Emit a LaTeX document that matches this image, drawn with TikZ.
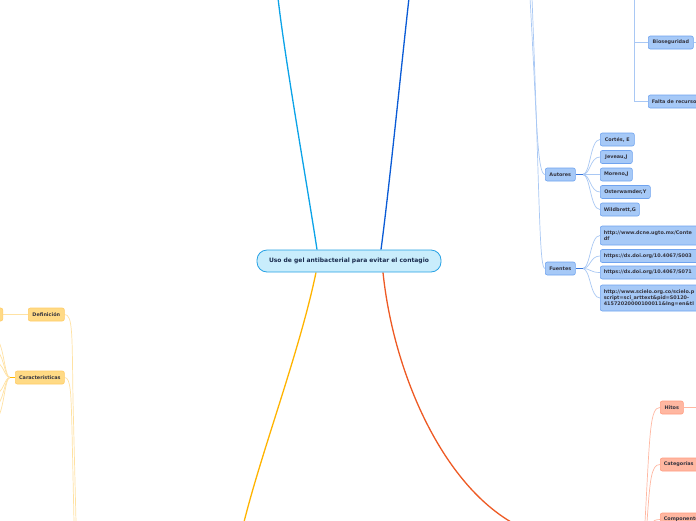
\documentclass[tikz,border=0pt]{standalone}
\usepackage{fontspec}
\setmainfont{DejaVu Sans}
\usetikzlibrary{calc}
\definecolor{cBrA}{HTML}{0BA3E8}
\definecolor{cBrB}{HTML}{0A5BD6}
\definecolor{cBrC}{HTML}{FFB400}
\definecolor{cBrD}{HTML}{EE5A24}
\definecolor{cCenFill}{HTML}{C9EDFC}
\definecolor{cCenBd}{HTML}{27A2E5}
\definecolor{cCenTxt}{HTML}{1A2C4E}
\definecolor{cBFill}{HTML}{A6C9F7}
\definecolor{cBBd}{HTML}{6FA3EF}
\definecolor{cBLine}{HTML}{A9C8F4}
\definecolor{cBStub}{HTML}{3A78DD}
\definecolor{cOFill}{HTML}{FFDA85}
\definecolor{cOBd}{HTML}{FFCC66}
\definecolor{cOLine}{HTML}{FFE2A3}
\definecolor{cOStub}{HTML}{FFB600}
\definecolor{cRFill}{HTML}{FFB7A1}
\definecolor{cRBd}{HTML}{FF9B7F}
\definecolor{cRLine}{HTML}{FFB8A2}
\definecolor{cTxt}{HTML}{34343F}
\pgfdeclarelayer{back}
\pgfdeclarelayer{bg}
\pgfsetlayers{back,bg,main}
\tikzset{
  central/.style={draw=cCenBd, fill=cCenFill, line width=0.8pt, rounded corners=10pt,
    minimum width=184pt, minimum height=22pt, inner sep=0pt, text=cCenTxt,
    font=\fontsize{6}{7}\selectfont\bfseries},
  topic/.style={rounded corners=2pt, line width=0.6pt, anchor=west, minimum height=13pt,
    inner xsep=3.5pt, inner ysep=1.5pt, text=cTxt, font=\fontsize{4.9}{6.3}\selectfont\bfseries},
  bnode/.style={topic, draw=cBBd, fill=cBFill},
  onode/.style={topic, draw=cOBd, fill=cOFill},
  rnode/.style={topic, draw=cRBd, fill=cRFill},
  brA/.style={draw=cBrA, line width=1.3pt},
  brB/.style={draw=cBrB, line width=1.3pt},
  brC/.style={draw=cBrC, line width=1.3pt},
  brD/.style={draw=cBrD, line width=1.3pt},
  bline/.style={draw=cBLine, line width=0.7pt},
  oline/.style={draw=cOLine, line width=0.7pt},
  rline/.style={draw=cRLine, line width=0.7pt},
  bstub/.style={draw=cBStub, line width=1.2pt},
  ostub/.style={draw=cOStub, line width=1.2pt},
}
\begin{document}
\begin{tikzpicture}[x=1pt,y=-1pt]
\begin{pgfonlayer}{back}
\fill[white] (0,0) rectangle (696,520);
\end{pgfonlayer}
\useasboundingbox (0,0) rectangle (696,520);

% central
\node[central] (c) at (349,261) {Uso de gel antibacterial para evitar el contagio};

% blue topics (right, top)
\node[bnode, minimum width=45pt] (bio) at (648,42.5) {Bioseguridad};
\node[bnode, text width=60pt, align=left] (falta) at (648,101.5) {Falta de recursos};
\node[bnode, minimum width=30pt] (aut) at (545,174.5) {Autores};
\node[bnode, minimum width=34pt] (a1) at (600,139.5) {Cortés, E};
\node[bnode, minimum width=32pt] (a2) at (600,157) {Jeveau,J};
\node[bnode, minimum width=32pt] (a3) at (600,174.5) {Moreno,J};
\node[bnode, minimum width=50pt] (a4) at (600,192) {Osterwamder,Y};
\node[bnode, minimum width=39pt] (a5) at (600,209.5) {Wildbrett,G};
\node[bnode, minimum width=30pt] (fue) at (545,268.5) {Fuentes};
\node[bnode, text width=110pt, align=left, minimum height=19pt] (f1) at (600,235.5) {http://www.dcne.ugto.mx/Conte\\df};
\node[bnode, text width=110pt, align=left] (f2) at (600,256) {https://dx.doi.org/10.4067/S003};
\node[bnode, text width=110pt, align=left] (f3) at (600,272.5) {https://dx.doi.org/10.4067/S071};
\node[bnode, text width=110pt, align=left, minimum height=26pt] (f4) at (600,298) {http://www.scielo.org.co/scielo.p\\script=sci\_arttext\&pid=S0120-\\41572020000100011\&lng=en\&tl};

% orange topics (left)
\node[onode, minimum width=44pt, anchor=east] (defl) at (3,314.5) {};
\node[onode, minimum width=36pt] (def) at (28,314.5) {Definición};
\node[onode, minimum width=49pt] (car) at (15,377.5) {Características};

% red topics (bottom right)
\node[rnode, minimum width=23pt] (hit) at (660,407.5) {Hitos};
\node[rnode, text width=50pt, align=left] (cat) at (660,464.5) {Categorías};
\node[rnode, text width=50pt, align=left] (com) at (660,519.5) {Componentes};

% off-picture end points
\coordinate (tA) at (278,-2);
\coordinate (tB) at (409,-2);
\coordinate (tC) at (244,522);
\coordinate (tD) at (511,522);
\coordinate (bv) at (634,-2);
\coordinate (ba1) at (530,-2);
\coordinate (ba2) at (532,-2);
\coordinate (ob1) at (76,522);
\coordinate (ob2) at (74,522);
\coordinate (rb1) at (645,522);
\coordinate (rb2) at (647,522);
\coordinate (rb3) at (648,530);
\coordinate (hitR) at (698,407.5);
\coordinate (bioR) at (698,42.5);

\begin{pgfonlayer}{bg}
% main branches
\draw[brA] ([xshift=-32pt]c.north) .. controls (308,190) and (285,60) .. (tA);
\draw[brB] ([xshift=32pt]c.north) .. controls (389,190) and (402,60) .. (tB);
\draw[brC] ([xshift=-33pt]c.south) .. controls (300,350) and (262,450) .. (tC);
\draw[brD] ([xshift=34pt]c.south) .. controls (393,370) and (440,480) .. (tD);

% blue
\draw[bline] (bv) |- (falta.west);
\draw[bline] (bv |- bio.west) -- (bio.west);
\draw[bline] (bio.east) -- (bioR);
\draw[bline] (ba1) .. controls (537,120) and (537,174.5) .. (aut.west);
\draw[bline] (ba2) .. controls (540,200) and (539,268.5) .. (fue.west);
\coordinate (autS) at ($(aut.east)+(7,0)$);
\coordinate (fueS) at ($(fue.east)+(7,0)$);
\foreach \n in {a1,a2,a3,a4,a5}
  \draw[bline] (autS) .. controls ($(autS)+(8,0)$) and ($(\n.west)+(-10,0)$) .. (\n.west);
\foreach \n in {f1,f2,f3,f4}
  \draw[bline] (fueS) .. controls ($(fueS)+(8,0)$) and ($(\n.west)+(-10,0)$) .. (\n.west);
\draw[bstub] (aut.east) -- (autS);
\draw[bstub] (fue.east) -- (fueS);

% orange
\draw[oline] (defl.east) -- (def.west);
\draw[oline] (def.east) .. controls (73,314.5) and (72,335) .. (73,400) -- (ob1);
\draw[oline] (car.east) .. controls (71,377.5) and (71,395) .. (72,430) -- (ob2);
\coordinate (carS) at ($(car.west)+(-5,0)$);
\foreach \y in {338,350,362,394,406,420}
  \draw[oline] (carS) .. controls (4,377.5) and (4,\y) .. (-6,\y);
\draw[ostub] (car.west) -- (carS);

% red
\draw[rline] (rb1) .. controls (650,430) and (650,407.5) .. (hit.west);
\draw[rline] (rb2) .. controls (650,480) and (651,464.5) .. (cat.west);
\draw[rline] (com.west) .. controls (652,519.5) and (650,524) .. (rb3);
\draw[rline] (hit.east) -- (hitR);
\end{pgfonlayer}
\end{tikzpicture}
\end{document}
